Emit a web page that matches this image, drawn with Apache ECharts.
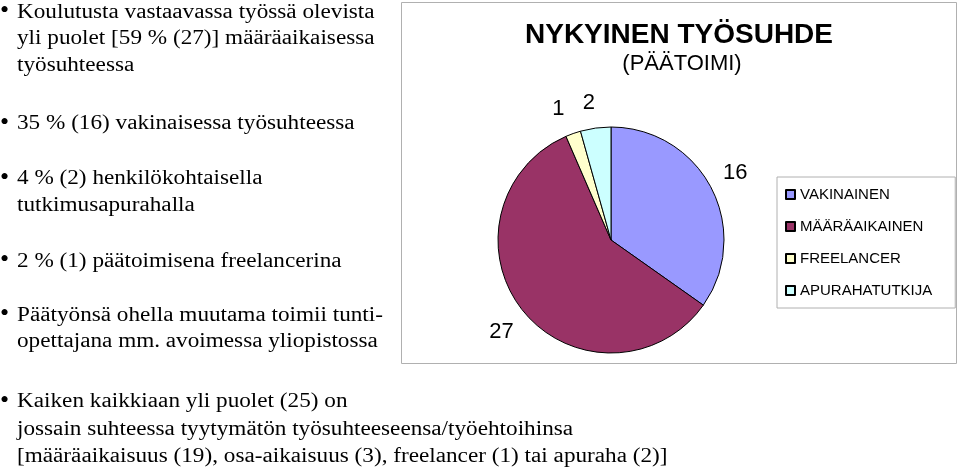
<!DOCTYPE html>
<html>
<head>
<meta charset="utf-8">
<script src="https://cdn.jsdelivr.net/npm/echarts@6/dist/echarts.min.js"></script>
<style>
html,body{margin:0;padding:0;background:#fff;}
#c{width:960px;height:470px;}
</style>
</head>
<body>
<div id="c"></div>
<script>
// ---- data ----
const categories = ['VAKINAINEN', 'MÄÄRÄAIKAINEN', 'FREELANCER', 'APURAHATUTKIJA'];
const values = [16, 27, 1, 2];
const colors = ['#9999FF', '#993366', '#FFFFCC', '#CCFFFF'];
const chartTitle = 'NYKYINEN TYÖSUHDE';
const chartSubtitle = '(PÄÄTOIMI)';
const leftBullets = [
  ['Koulutusta vastaavassa työssä olevista', 'yli puolet [59 % (27)] määräaikaisessa', 'työsuhteessa'],
  ['35 % (16) vakinaisessa työsuhteessa'],
  ['4 % (2) henkilökohtaisella', 'tutkimusapurahalla'],
  ['2 % (1) päätoimisena freelancerina'],
  ['Päätyönsä ohella muutama toimii tunti-', 'opettajana mm. avoimessa yliopistossa']
];
const bottomBullet = [
  'Kaiken kaikkiaan yli puolet (25) on',
  'jossain suhteessa tyytymätön työsuhteeseensa/työehtoihinsa',
  '[määräaikaisuus (19), osa-aikaisuus (3), freelancer (1) tai apuraha (2)]'
];

// ---- layout ----
const leftBulletTops = [12.5, 124, 179, 261.5, 315.5];
const leftLineGap = 26.7;
const bottomTop = 402;
const bottomLineGap = 27.5;
const textStretch = 1.16;
const serif = 'Liberation Serif';
const sans = 'Liberation Sans';
// small label nudges (dx, dy) per slice to mimic the original label placement
const labelNudge = [[-6, -6], [6, 8], [-2, -6], [2, -5]];

const graphics = [];
graphics.push({
  type: 'rect', shape: {x: 401.5, y: 2.5, width: 555, height: 361},
  style: {fill: 'none', stroke: '#b0b0b0', lineWidth: 1}, z: 0
});
function addBullet(lines, top, gap, size) {
  graphics.push({type: 'text', x: 0, y: top - 1, style: {text: '•', fontSize: 26, fontFamily: serif, fill: '#000', verticalAlign: 'middle'}});
  lines.forEach((ln, i) => {
    graphics.push({type: 'text', x: 17, y: top + i * gap, scaleX: textStretch, style: {text: ln, fontSize: size, fontFamily: serif, fill: '#000', verticalAlign: 'middle'}});
  });
}
leftBullets.forEach((b, i) => addBullet(b, leftBulletTops[i], leftLineGap, 20));
addBullet(bottomBullet, bottomTop, bottomLineGap, 20);
graphics.push({type: 'text', x: 679, y: 35, style: {text: chartTitle, fontSize: 28, fontWeight: 'bold', fontFamily: sans, fill: '#000', align: 'center', verticalAlign: 'middle'}});
graphics.push({type: 'text', x: 682, y: 64, style: {text: chartSubtitle, fontSize: 22, fontFamily: sans, fill: '#000', align: 'center', verticalAlign: 'middle'}});

const chart = echarts.init(document.getElementById('c'), null, {renderer: 'canvas'});
chart.setOption({
  animation: false,
  backgroundColor: '#fff',
  color: colors,
  graphic: graphics,
  legend: {
    orient: 'vertical',
    left: 777, top: 177,
    padding: [10, 23, 10, 8],
    itemGap: 17,
    itemWidth: 9, itemHeight: 9,
    icon: 'rect',
    borderColor: '#b0b0b0', borderWidth: 1,
    textStyle: {fontFamily: sans, fontSize: 15, color: '#000'},
    data: categories
  },
  series: [{
    type: 'pie',
    center: [611, 240],
    radius: 113,
    startAngle: 90,
    clockwise: true,
    avoidLabelOverlap: false,
    itemStyle: {borderColor: '#000', borderWidth: 1},
    label: {
      show: true, position: 'outside', formatter: '{c}',
      fontFamily: sans, fontSize: 22, color: '#000',
      distanceToLabelLine: 0
    },
    labelLine: {show: false, length: 20, length2: 0},
    labelLayout: function (p) {
      const n = labelNudge[p.dataIndex];
      return {dx: n[0], dy: n[1]};
    },
    emphasis: {disabled: true},
    data: categories.map((n, i) => ({name: n, value: values[i]}))
  }]
});
</script>
</body>
</html>
